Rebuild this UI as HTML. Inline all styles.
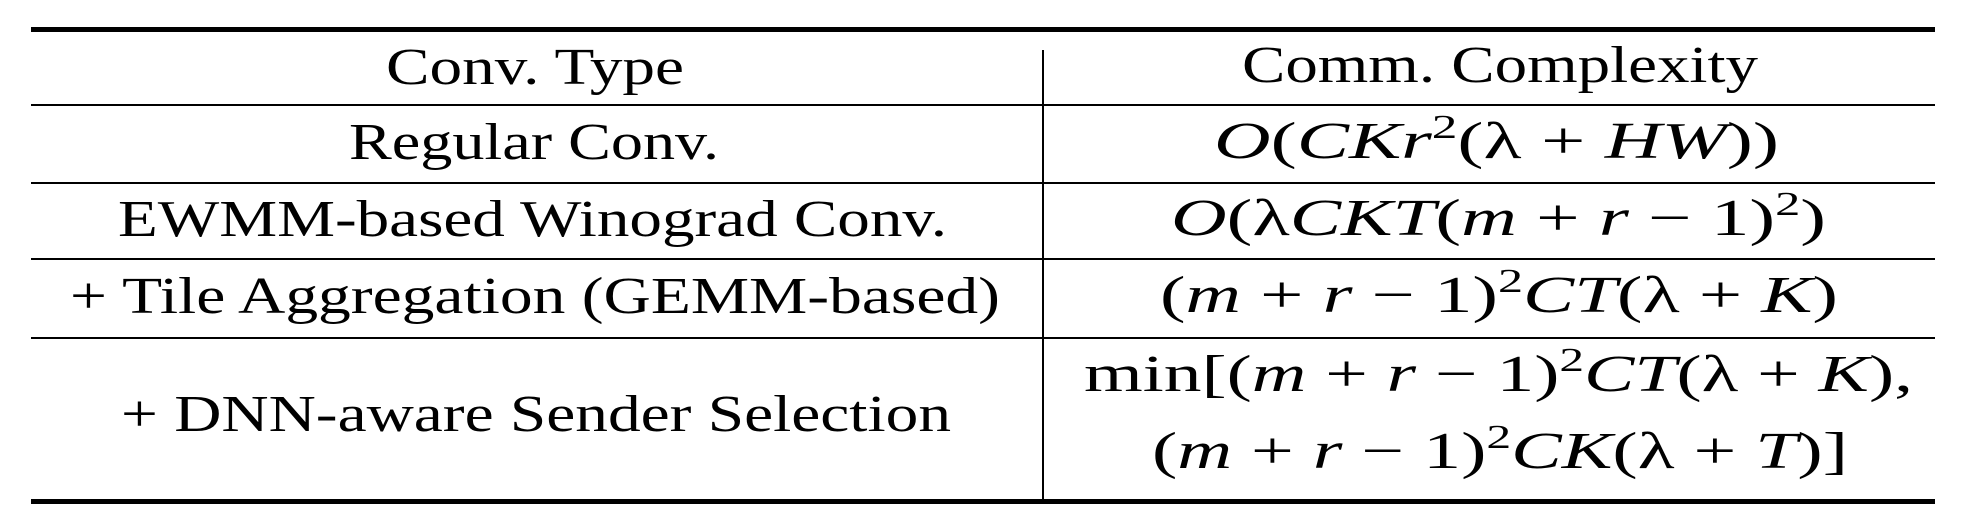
<!DOCTYPE html>
<html><head><meta charset="utf-8"><style>
html,body{margin:0;padding:0;background:#fff;}
svg{display:block;}
text{font-family:"Liberation Serif",serif;font-size:52px;fill:#000;}
.i{font-style:italic;}
</style></head><body>
<svg width="1974" height="526" viewBox="0 0 1974 526" xmlns="http://www.w3.org/2000/svg">
<rect x="31" y="27" width="1904" height="5" fill="#000"/>
<rect x="31" y="104" width="1904" height="2" fill="#000"/>
<rect x="31" y="182" width="1904" height="2" fill="#000"/>
<rect x="31" y="258" width="1904" height="2" fill="#000"/>
<rect x="31" y="337" width="1904" height="2" fill="#000"/>
<rect x="31" y="499" width="1904" height="5" fill="#000"/>
<rect x="1042" y="50" width="2" height="451" fill="#000"/>

<text x="386" y="84" textLength="298" lengthAdjust="spacingAndGlyphs">Conv. Type</text>
<text x="349" y="159" textLength="370" lengthAdjust="spacingAndGlyphs">Regular Conv.</text>
<text x="118" y="236" textLength="829" lengthAdjust="spacingAndGlyphs">EWMM-based Winograd Conv.</text>
<text x="70" y="313" textLength="930" lengthAdjust="spacingAndGlyphs">+ Tile Aggregation (GEMM-based)</text>
<text x="121" y="431" textLength="830" lengthAdjust="spacingAndGlyphs">+ DNN-aware Sender Selection</text>

<text x="1242" y="82" textLength="516" lengthAdjust="spacingAndGlyphs">Comm. Complexity</text>
<text x="1214" y="158" textLength="565" lengthAdjust="spacingAndGlyphs"><tspan class="i">O</tspan>(<tspan class="i">CKr</tspan><tspan font-size="34" dy="-20">2</tspan><tspan dy="20">(λ + </tspan><tspan class="i">HW</tspan>))</text>
<text x="1171" y="235" textLength="655" lengthAdjust="spacingAndGlyphs"><tspan class="i">O</tspan>(λ<tspan class="i">CKT</tspan>(<tspan class="i">m</tspan> + <tspan class="i">r</tspan> − 1)<tspan font-size="34" dy="-20">2</tspan><tspan dy="20">)</tspan></text>
<text x="1160" y="312" textLength="678" lengthAdjust="spacingAndGlyphs">(<tspan class="i">m</tspan> + <tspan class="i">r</tspan> − 1)<tspan font-size="34" dy="-20">2</tspan><tspan dy="20" class="i">CT</tspan>(λ + <tspan class="i">K</tspan>)</text>
<text x="1084" y="391" textLength="829" lengthAdjust="spacingAndGlyphs">min[(<tspan class="i">m</tspan> + <tspan class="i">r</tspan> − 1)<tspan font-size="34" dy="-20">2</tspan><tspan dy="20" class="i">CT</tspan>(λ + <tspan class="i">K</tspan>),</text>
<text x="1152" y="468" textLength="696" lengthAdjust="spacingAndGlyphs">(<tspan class="i">m</tspan> + <tspan class="i">r</tspan> − 1)<tspan font-size="34" dy="-20">2</tspan><tspan dy="20" class="i">CK</tspan>(λ + <tspan class="i">T</tspan>)]</text>
</svg>
</body></html>
